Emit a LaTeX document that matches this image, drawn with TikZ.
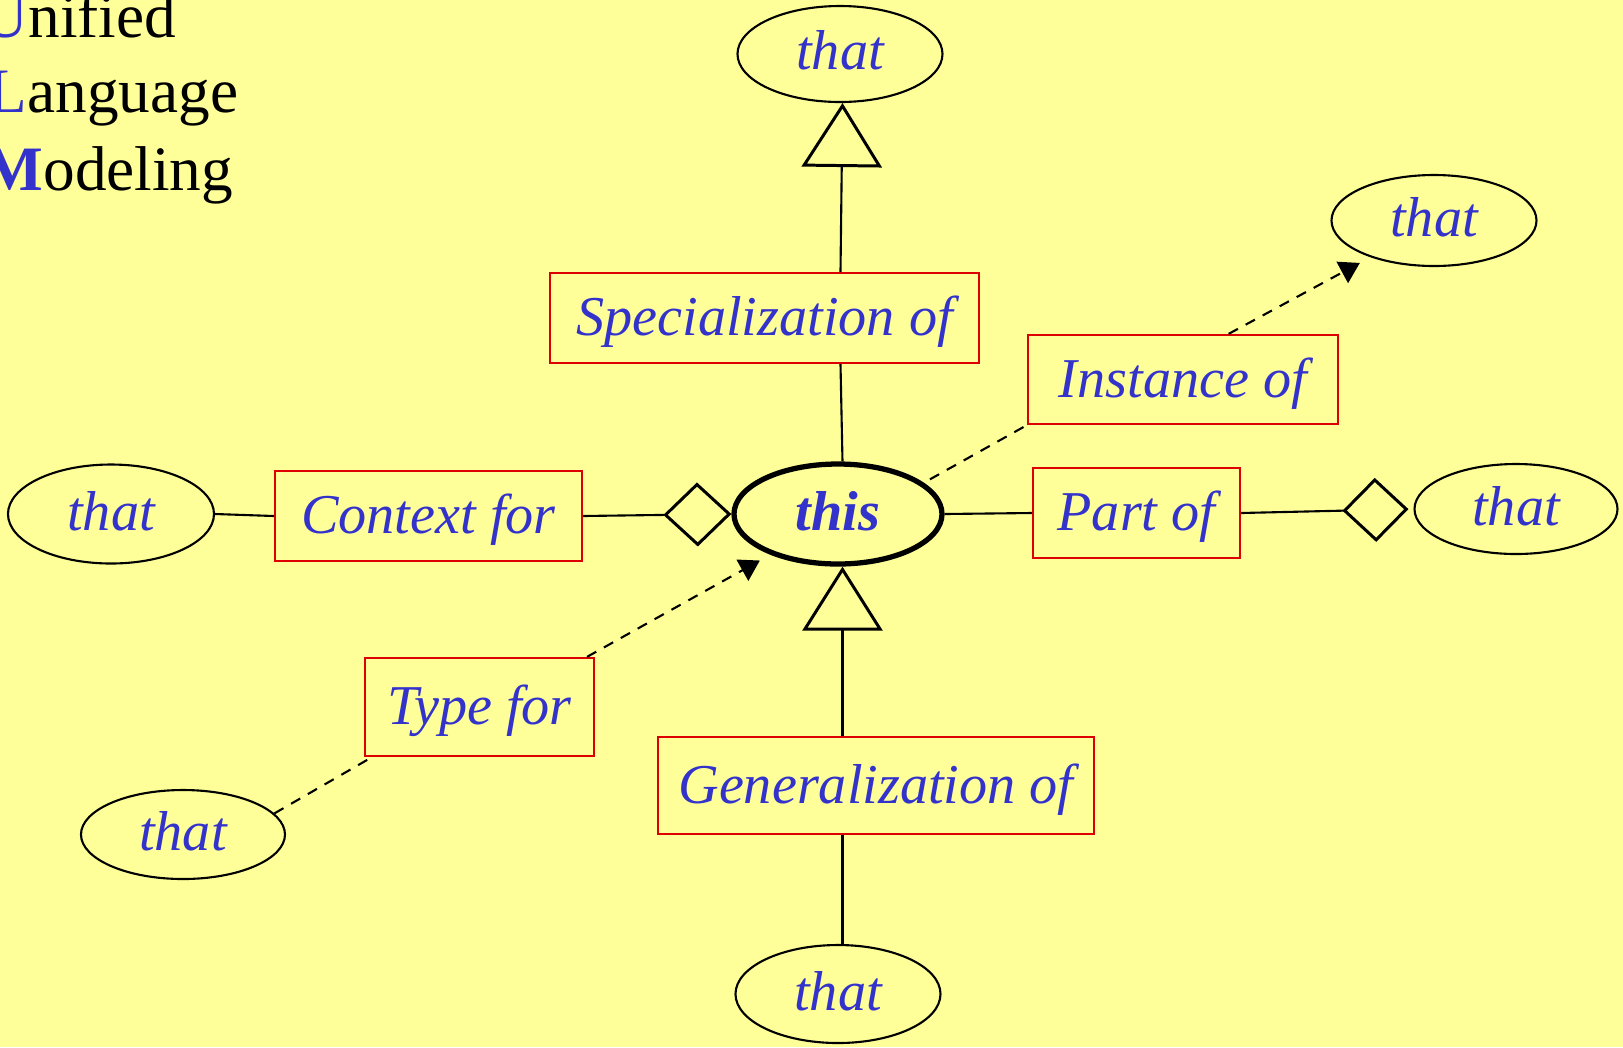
\documentclass[tikz,border=0pt]{standalone}
\usepackage{fontspec}
\setmainfont{Liberation Serif}
\usetikzlibrary{shapes.geometric,arrows.meta}
\definecolor{umlyellow}{HTML}{FFFF99}
\definecolor{umlblue}{HTML}{3333CC}
\definecolor{umlred}{HTML}{DD0000}
\begin{document}
\begin{tikzpicture}[font=\fontsize{16}{19}\selectfont\itshape,
  thing/.style={ellipse, draw, line width=0.6pt, fill=umlyellow, text=umlblue, inner sep=0pt, text height=9.1pt, text depth=0pt, minimum width=2.05cm, minimum height=0.95cm},
  relbox/.style={draw=umlred, line width=0.65pt, fill=umlyellow, text=umlblue, inner sep=0pt, text height=12.5pt, text depth=2.5pt},
  umltext/.style={anchor=base west, inner sep=0pt, font=\fontsize{18}{21.6}\selectfont\upshape},
  isa/.style={line width=0.6pt, -{Triangle[open, length=0.64cm, width=0.80cm, line width=0.85pt]}},
  whole/.style={line width=0.6pt},
  depends/.style={line width=0.6pt, dash pattern=on 3pt off 2.5pt},
  depends tip/.style={depends, -{Triangle[length=0.2cm, width=0.24cm]}}]
\fill[umlyellow] (-8.38, -5.33) rectangle (7.85, 5.14);
\useasboundingbox (-8.38, -5.33) rectangle (7.85, 5.14);

\node (umlU) [umltext] at (-8.56, 4.77) {{\color{umlblue}U}nified};
\node (umlL) [umltext] at (-8.50, 4.02) {{\color{umlblue}L}anguage};
\node (umlM) [umltext] at (-8.55, 3.24) {{\color{umlblue}\bfseries M}odeling};

% the classes
\node (this) [thing, line width=1.5pt, minimum width=2.08cm, minimum height=1.0cm, font=\fontsize{16}{19}\selectfont\bfseries\itshape] at (0, 0) {this};
\node (topthat) [thing, minimum width=2.05cm, minimum height=0.96cm] at (0.02, 4.60) {that};
\node (trthat) [thing, minimum height=0.91cm] at (5.96, 2.935) {that};
\node (lthat) [thing, minimum width=2.06cm, minimum height=0.99cm] at (-7.27, 0) {that};
\node (rthat) [thing, minimum width=2.03cm, minimum height=0.90cm] at (6.78, 0.05) {that};
\node (blthat) [thing, minimum width=2.04cm, minimum height=0.89cm] at (-6.55, -3.205) {that};
\node (botthat) [thing, minimum width=2.05cm, minimum height=0.98cm] at (0, -4.80) {that};

% the relations
\node (spec) [relbox, minimum width=4.29cm, minimum height=0.90cm] at (-0.735, 1.96) {Specialization of};
\node (inst) [relbox, minimum width=3.10cm, minimum height=0.89cm] at (3.45, 1.345) {Instance of};
\node (ctx) [relbox, minimum width=3.07cm, minimum height=0.90cm] at (-4.095, -0.02) {Context for};
\node (part) [relbox, minimum width=2.07cm, minimum height=0.90cm] at (2.985, 0.01) {Part of};
\node (type) [relbox, minimum width=2.29cm, minimum height=0.98cm] at (-3.585, -1.93) {Type for};
\node (gen) [relbox, minimum width=4.36cm, minimum height=0.97cm] at (0.38, -2.715) {Generalization of};

\draw[whole] ([xshift=0.045cm]this.north) -- ([xshift=0.025cm]spec.south -| this.north);
\draw[isa] ([xshift=0.025cm]spec.north -| this.north) -- ([xshift=0.025cm]topthat.south);
\draw[whole] ([xshift=0.045cm]botthat.north) -- ([xshift=0.045cm]gen.south -| botthat.north);
\draw[isa] ([xshift=0.045cm]gen.north -| botthat.north) -- ([xshift=0.045cm]this.south);

\draw[whole] (lthat.east) -- (ctx.west);
\draw[whole, -{Diamond[open, length=0.68cm, width=0.64cm, line width=0.85pt]}] (ctx.east) -- (this.west);
\draw[whole] (this.east) -- (part.west);
\draw[whole, shorten >=0.05cm, -{Diamond[open, length=0.66cm, width=0.64cm, line width=0.85pt]}] (part.east) -- (rthat.west);

\draw[depends] (blthat.13) -- (type.205);
\draw[depends tip, shorten >=0.12cm] (type.25) -- (this.211);
\draw[depends, shorten <=0.07cm] (this.20) -- (inst.south west);
\draw[depends tip, shorten >=0.12cm] (inst.45) -- (trthat.210);
\end{tikzpicture}
\end{document}
